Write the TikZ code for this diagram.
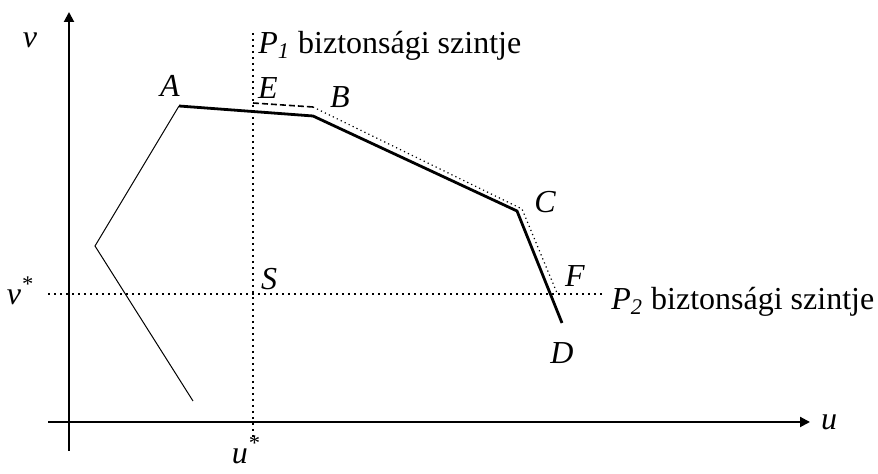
\documentclass[tikz,border=0pt]{standalone}
\usepackage{fontspec}
\setmainfont{Liberation Serif}
\usetikzlibrary{arrows.meta}

\tikzset{
  lbl/.style={font=\fontsize{16}{18}\selectfont\itshape, inner sep=0pt},
  guide/.style={line width=1pt, dash pattern=on 1pt off 2pt},
  path/.style={line width=1.4pt},
}

\begin{document}
\begin{tikzpicture}[x=0.5pt, y=-0.5pt, >={Triangle[length=5pt,width=5pt]}]
\useasboundingbox (0,0) rectangle (878,474);

% axes
\coordinate (O1) at (69,451);
\coordinate (V) at (69,12);
\coordinate (O2) at (48,422);
\coordinate (U) at (810,422);
\draw[->, line width=1pt] (O1) -- (V);
\draw[->, line width=1pt] (O2) -- (U);

% guide lines
\coordinate (P1a) at (253,33);
\coordinate (P1b) at (253,437);
\coordinate (P2a) at (48,294);
\coordinate (P2b) at (605,294);
\draw[guide] (P1a) -- (P1b);
\draw[guide] (P2a) -- (P2b);

% points
\coordinate (A) at (179,106);
\coordinate (G) at (95,246);
\coordinate (H) at (193,401);
\coordinate (B) at (313,116);
\coordinate (C) at (517,211);
\coordinate (D) at (562,323);
\coordinate (E) at (253,103);
\coordinate (B2) at (313,107);
\coordinate (C2) at (522,209);
\coordinate (F) at (557,293);

\draw[line width=0.5pt] (A) -- (G) -- (H);
\draw[path] (A) -- (B) -- (C) -- (D);
\draw[line width=0.8pt, dash pattern=on 3pt off 1.5pt] (E) -- (B2);
\draw[line width=0.6pt, dash pattern=on 0.6pt off 1.6pt] (B2) -- (C2) -- (F);

% labels
\node[lbl] (lv) at (30,40) {v};
\node[lbl] (lu) at (829,422) {u};
\node[lbl] (lvs) at (20,291) {v\textsuperscript{*}};
\node[lbl, anchor=south] (lus) at (246,464) {u\textsuperscript{*}};
\node[lbl] (lA) at (170,86) {A};
\node[lbl] (lE) at (268,88) {E};
\node[lbl] (lB) at (340,97) {B};
\node[lbl] (lC) at (545,202) {C};
\node[lbl] (lF) at (575,276) {F};
\node[lbl] (lS) at (269,279) {S};
\node[lbl] (lD) at (562,353) {D};
\node[lbl, anchor=west] (lP1) at (258,46) {P\textsubscript{1}\upshape\ biztonsági szintje};
\node[lbl, anchor=west] (lP2) at (611,302) {P\textsubscript{2}\upshape\ biztonsági szintje};
\end{tikzpicture}
\end{document}
